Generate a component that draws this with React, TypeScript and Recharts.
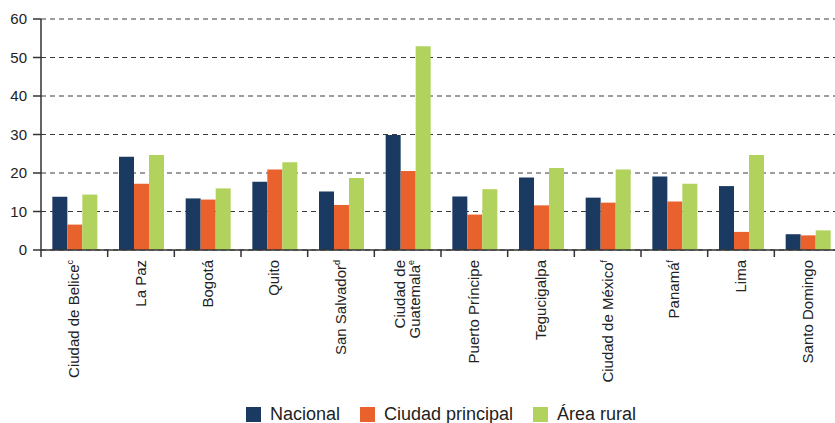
import { BarChart, Bar, XAxis, YAxis, CartesianGrid, Legend } from 'recharts';

const cities = [
    'Ciudad de Belice|c',
    'La Paz',
    'Bogotá',
    'Quito',
    'San Salvador|d',
    'Ciudad de/Guatemala|e',
    'Puerto Príncipe',
    'Tegucigalpa',
    'Ciudad de México|f',
    'Panamá|f',
    'Lima',
    'Santo Domingo',
];

const nacional = [13.8, 24.2, 13.4, 17.7, 15.2, 29.9, 13.9, 18.8, 13.6, 19.1, 16.6, 4.1];
const ciudadPrincipal = [6.6, 17.2, 13.1, 20.9, 11.7, 20.5, 9.2, 11.6, 12.3, 12.6, 4.7, 3.8];
const areaRural = [14.4, 24.7, 16.0, 22.8, 18.7, 52.9, 15.8, 21.3, 20.9, 17.2, 24.7, 5.1];

const yTicks = [0, 10, 20, 30, 40, 50, 60];

const series = [
    { key: 'nacional', name: 'Nacional', color: '#1b3a62' },
    { key: 'ciudad', name: 'Ciudad principal', color: '#e9612d' },
    { key: 'rural', name: 'Área rural', color: '#b1d35d' },
];

const data = cities.map((c, i) => ({
    city: c,
    nacional: nacional[i],
    ciudad: ciudadPrincipal[i],
    rural: areaRural[i],
}));

const FONT = '"Liberation Sans", Arial, sans-serif';
const BAND = 800 / cities.length;

function CityTick(props: any) {
    const { x, y, payload } = props;
    const [label, sup] = String(payload.value).split('|');
    const lines = label.split('/');
    const lh = 15;
    return (
        <g>
            <line x1={x - BAND / 2} y1={y - 8} x2={x - BAND / 2} y2={y - 1} stroke="#333" strokeWidth={1.5} />
            <text
                transform={`translate(${x},${y + 2}) rotate(-90)`}
                textAnchor="end"
                fontSize={15}
                fontFamily={FONT}
                fill="#222"
            >
                {lines.map((ln, i) => (
                    <tspan key={i} x={0} dy={i === 0 ? 5 - ((lines.length - 1) * lh) / 2 : lh}>
                        {ln}
                        {i === lines.length - 1 && sup ? (
                            <tspan fontSize={9} dy={-6}>{sup}</tspan>
                        ) : null}
                    </tspan>
                ))}
            </text>
        </g>
    );
}

function LegendBox() {
    return (
        <div
            style={{
                boxSizing: 'border-box',
                height: 28,
                paddingTop: 10,
                paddingLeft: 41,
                display: 'flex',
                justifyContent: 'center',
                alignItems: 'center',
                fontFamily: FONT,
                fontSize: 18,
                color: '#222',
            }}
        >
            {series.map((s, i) => (
                <div key={s.key} style={{ display: 'flex', alignItems: 'center', marginRight: i < series.length - 1 ? 20 : 0 }}>
                    <span style={{ width: 15, height: 15, background: s.color, display: 'inline-block', marginRight: 9 }} />
                    <span style={{ lineHeight: '18px' }}>{s.name}</span>
                </div>
            ))}
        </div>
    );
}

export default function App() {
    return (
        <div style={{ position: 'absolute', left: 0, top: 0, width: 835, height: 423, overflow: 'hidden', background: '#fff' }}>
            <BarChart
                width={860}
                height={423}
                data={data}
                margin={{ top: 19, right: 19, left: 0, bottom: 0 }}
                barCategoryGap="17%"
                barGap={0}
            >
                <CartesianGrid vertical={false} stroke="#3a3a3a" strokeDasharray="5 4" />
                <XAxis
                    dataKey="city"
                    interval={0}
                    height={145}
                    tick={<CityTick />}
                    tickLine={false}
                    axisLine={{ stroke: '#333', strokeWidth: 1.5 }}
                />
                <YAxis
                    width={41}
                    domain={[0, 60]}
                    ticks={yTicks}
                    tickSize={8}
                    tickMargin={6}
                    tick={{ fontSize: 15, fontFamily: FONT, fill: '#222' }}
                    tickLine={{ stroke: '#333', strokeWidth: 1.5 }}
                    axisLine={{ stroke: '#333', strokeWidth: 1.5 }}
                />
                <Legend verticalAlign="bottom" content={<LegendBox />} />
                {series.map(s => (
                    <Bar key={s.key} dataKey={s.key} name={s.name} fill={s.color} isAnimationActive={false} />
                ))}
            </BarChart>
        </div>
    );
}
